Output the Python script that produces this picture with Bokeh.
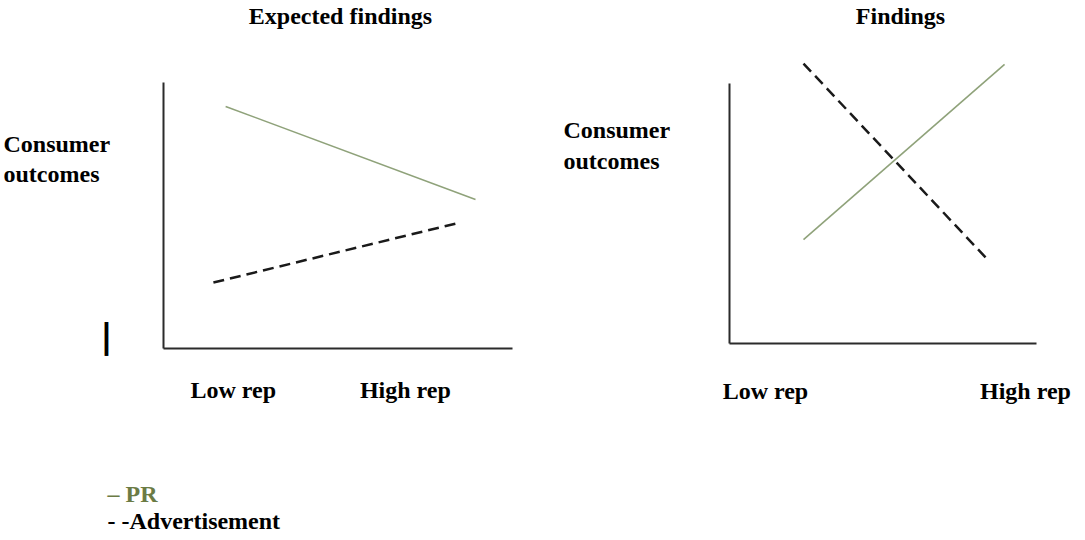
from bokeh.plotting import figure
from bokeh.models import Range1d, FixedTicker, Label
from bokeh.layouts import row
from bokeh.embed import file_html
from bokeh.resources import INLINE

# ---- data ----
tick_labels = ["Low rep", "High rep"]
# Expected findings panel
exp_ticks = [2.0, 6.93]
exp_pr_x = [1.78, 8.94]
exp_pr_y = [9.10, 5.60]
exp_ad_x = [1.43, 8.51]
exp_ad_y = [2.48, 4.74]
# Findings panel
fin_ticks = [1.17, 9.64]
fin_pr_x = [2.41, 8.96]
fin_pr_y = [3.61, 9.69]
fin_ad_x = [2.41, 8.34]
fin_ad_y = [9.72, 2.99]

PR_COLOR = "#8fa27a"
AD_COLOR = "#1a1a1a"
AXIS_COLOR = "#2b2b2b"
FONT = "Liberation Serif"
FS = "24px"
H = 538


def make_panel(left_px, width, ax_x0, ax_x1, ax_y0, ax_y10, ticks, y_top, standoff):
    """Frame fills the whole figure; data 0..10 maps to the drawn axis box."""
    sx = (ax_x1 - ax_x0) / 10.0
    sy = (ax_y0 - ax_y10) / 10.0
    x0 = ax_x0 - left_px
    xr = Range1d(-x0 / sx, (width - x0) / sx)
    yr = Range1d(-(H - ax_y0) / sy, ax_y0 / sy)
    p = figure(width=width, height=H, output_backend="svg", toolbar_location=None,
               x_range=xr, y_range=yr, min_border=0)
    p.outline_line_color = None
    p.grid.visible = False
    p.background_fill_color = "white"
    p.border_fill_color = "white"
    for ax in (p.xaxis[0], p.yaxis[0]):
        ax.axis_line_color = AXIS_COLOR
        ax.axis_line_width = 2
        ax.major_tick_line_color = None
        ax.minor_tick_line_color = None
        ax.fixed_location = 0
    p.xaxis.bounds = (0, 10)
    p.yaxis.bounds = (0, y_top)
    p.xaxis.ticker = FixedTicker(ticks=ticks)
    p.xaxis.major_label_overrides = {t: l for t, l in zip(ticks, tick_labels)}
    p.xaxis.major_label_text_font = FONT
    p.xaxis.major_label_text_font_style = "bold"
    p.xaxis.major_label_text_font_size = FS
    p.xaxis.major_label_text_color = "black"
    p.xaxis.major_label_standoff = standoff
    p.yaxis.ticker = FixedTicker(ticks=[])

    def to_data(X, Y):
        return (X - ax_x0) / sx, (ax_y0 - Y) / sy

    return p, to_data


def add_text(p, conv, X, Y, text, color="black", align="left", size=FS, font=FONT):
    x, y = conv(X, Y)
    p.add_layout(Label(x=x, y=y, text=text, text_font=font, text_font_style="bold",
                       text_font_size=size, text_color=color, text_align=align,
                       text_baseline="middle"))


# ---- left panel: Expected findings ----
left, lconv = make_panel(0, 545, 163, 512, 348, 82, exp_ticks, 10, 22)
left.line(exp_pr_x, exp_pr_y, line_color=PR_COLOR, line_width=1.6)
left.line(exp_ad_x, exp_ad_y, line_color=AD_COLOR, line_width=2.5, line_dash="11 6")

add_text(left, lconv, 340, 15, "Expected findings", align="center")
add_text(left, lconv, 3, 143, "Consumer")
add_text(left, lconv, 3, 173, "outcomes")
add_text(left, lconv, 106, 335, "|", size="34px", font="DejaVu Sans", align="center")
add_text(left, lconv, 107, 493, "– PR", color="#6b7b45")
add_text(left, lconv, 107, 520, "- -Advertisement")

# ---- right panel: Findings ----
right, rconv = make_panel(545, 539, 729, 1036, 343, 55, fin_ticks, 9.03, 28)
right.line(fin_pr_x, fin_pr_y, line_color=PR_COLOR, line_width=1.6)
right.line(fin_ad_x, fin_ad_y, line_color=AD_COLOR, line_width=2.5, line_dash="11 6")

add_text(right, rconv, 900, 15, "Findings", align="center")
add_text(right, rconv, 563, 129, "Consumer")
add_text(right, rconv, 563, 160, "outcomes")

layout = row(left, right)
open("out.html", "w").write(file_html(layout, INLINE))
